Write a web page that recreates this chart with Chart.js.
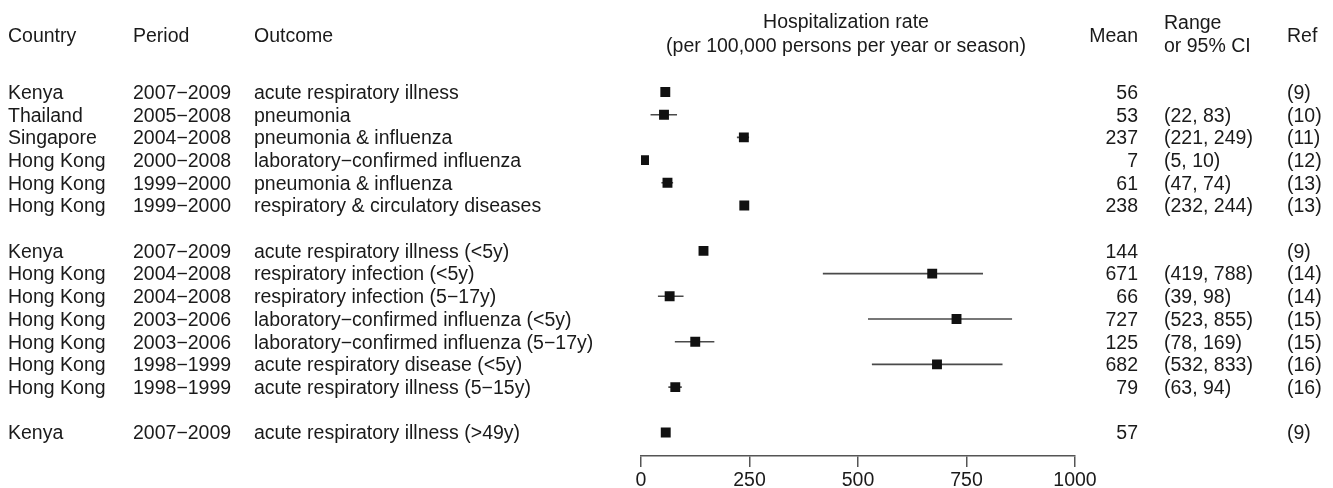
<!DOCTYPE html>
<html>
<head>
<meta charset="utf-8">
<script src="https://cdn.jsdelivr.net/npm/chart.js@4"></script>
<style>
  html, body { margin: 0; padding: 0; background: #fff; }
  #wrap { width: 1333px; height: 488px; }
</style>
</head>
<body>
<div id="wrap"><canvas id="forest"></canvas></div>
<script>
// Dados de cada linha (linhas vazias separam os grupos)
const countries = ['Kenya', 'Thailand', 'Singapore', 'Hong Kong', 'Hong Kong', 'Hong Kong', '',
  'Kenya', 'Hong Kong', 'Hong Kong', 'Hong Kong', 'Hong Kong', 'Hong Kong', 'Hong Kong', '',
  'Kenya'];
const periods = ['2007−2009', '2005−2008', '2004−2008', '2000−2008', '1999−2000', '1999−2000', '',
  '2007−2009', '2004−2008', '2004−2008', '2003−2006', '2003−2006', '1998−1999', '1998−1999', '',
  '2007−2009'];
const outcomes = ['acute respiratory illness', 'pneumonia', 'pneumonia & influenza',
  'laboratory−confirmed influenza', 'pneumonia & influenza', 'respiratory & circulatory diseases', '',
  'acute respiratory illness (<5y)', 'respiratory infection (<5y)', 'respiratory infection (5−17y)',
  'laboratory−confirmed influenza (<5y)', 'laboratory−confirmed influenza (5−17y)',
  'acute respiratory disease (<5y)', 'acute respiratory illness (5−15y)', '',
  'acute respiratory illness (>49y)'];
const means = [56, 53, 237, 7, 61, 238, null, 144, 671, 66, 727, 125, 682, 79, null, 57];
const lows  = [null, 22, 221, 5, 47, 232, null, null, 419, 39, 523, 78, 532, 63, null, null];
const highs = [null, 83, 249, 10, 74, 244, null, null, 788, 98, 855, 169, 833, 94, null, null];
const refs  = ['(9)', '(10)', '(11)', '(12)', '(13)', '(13)', '', '(9)', '(14)', '(14)', '(15)', '(15)',
  '(16)', '(16)', '', '(9)'];
const xTicks = [0, 250, 500, 750, 1000];

const FONT = '19.5px "Liberation Sans", Arial, sans-serif';
const TXT = '#1a1a1a';

// Pontos (quadrados) das médias
const datasets = [{
  data: means.map((m, i) => m === null ? null : { x: m, y: i }).filter(p => p),
  pointStyle: 'rect',
  pointRadius: 7,
  backgroundColor: '#111',
  borderWidth: 0
}];

// Barras dos intervalos
lows.forEach((lo, i) => {
  if (lo === null) return;
  datasets.push({
    data: [{ x: lo, y: i }, { x: highs[i], y: i }],
    showLine: true,
    borderColor: '#4a4a4a',
    borderWidth: 1.6,
    pointRadius: 0
  });
});

// Textos das colunas
const tabela = {
  id: 'tabela',
  afterDraw(chart) {
    const ctx = chart.ctx;
    const y = chart.scales.y;
    ctx.save();
    ctx.font = FONT;
    ctx.fillStyle = TXT;
    ctx.textBaseline = 'middle';

    const put = (t, x, yy, align) => { ctx.textAlign = align || 'left'; ctx.fillText(t, x, yy); };

    // cabeçalho
    put('Country', 8, 37);
    put('Period', 133, 37);
    put('Outcome', 254, 37);
    put('Hospitalization rate', 846, 23, 'center');
    put('(per 100,000 persons per year or season)', 846, 47, 'center');
    put('Mean', 1138, 37, 'right');
    put('Range', 1164, 24);
    put('or 95% CI', 1164, 47);
    put('Ref', 1287, 37);

    countries.forEach((c, i) => {
      if (!c) return;
      const yy = y.getPixelForValue(i) + 1.5;
      put(c, 8, yy);
      put(periods[i], 133, yy);
      put(outcomes[i], 254, yy);
      put(String(means[i]), 1138, yy, 'right');
      if (lows[i] !== null) put('(' + lows[i] + ', ' + highs[i] + ')', 1164, yy);
      put(refs[i], 1287, yy);
    });
    ctx.restore();
  }
};

new Chart(document.getElementById('forest'), {
  type: 'scatter',
  data: { datasets },
  plugins: [tabela],
  options: {
    responsive: true,
    maintainAspectRatio: false,
    animation: false,
    events: [],
    layout: { padding: { left: 641, right: 258, top: 69.3, bottom: 0 } },
    plugins: { legend: { display: false }, tooltip: { enabled: false } },
    scales: {
      x: {
        type: 'linear',
        min: 0,
        max: 1000,
        afterBuildTicks: s => { s.ticks = xTicks.map(v => ({ value: v })); },
        afterFit: s => { s.height = 32; },
        grid: { drawOnChartArea: false, drawTicks: true, tickLength: 11, color: '#555', lineWidth: 1.5 },
        border: { display: true, color: '#555', width: 1.5 },
        ticks: {
          font: { family: '"Liberation Sans", Arial, sans-serif', size: 19.5 },
          color: TXT,
          padding: 2,
          maxRotation: 0,
          callback: v => String(v)
        }
      },
      y: {
        type: 'linear',
        display: false,
        reverse: true,
        min: -1,
        max: 16.035
      }
    }
  }
});
</script>
</body>
</html>
